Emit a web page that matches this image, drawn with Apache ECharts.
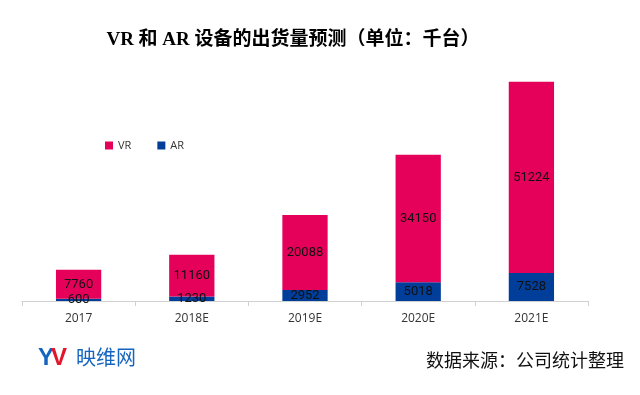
<!DOCTYPE html>
<html><head><meta charset="utf-8">
<script src="https://cdn.jsdelivr.net/npm/echarts@6/dist/echarts.min.js"></script>
<style>html,body{margin:0;padding:0;background:#fff}#c{width:640px;height:395px}</style>
</head><body><div id="c"></div>
<script>
var categories = ['2017', '2018E', '2019E', '2020E', '2021E'];
var arValues = [600, 1230, 2952, 5018, 7528];
var vrValues = [7760, 11160, 20088, 34150, 51224];
var titleText = 'VR 和 AR 设备的出货量预测（单位：千台）';
var sourceText = '数据来源：公司统计整理';

var chart = echarts.init(document.getElementById('c'));
var labelStyle = {
  show: true, position: 'inside', color: '#111',
  fontSize: 13, fontFamily: '"Liberation Sans Narrow", "Roboto", sans-serif'
};
chart.setOption({
  animation: false,
  title: {
    text: titleText, left: 288, top: 26, textAlign: 'center',
    textStyle: { fontSize: 19, fontWeight: 'bold', color: '#000',
      fontFamily: '"Liberation Serif", "Noto Sans CJK SC", serif' }
  },
  legend: {
    left: 100, top: 135, itemWidth: 8, itemHeight: 8, itemGap: 26,
    icon: 'rect',
    textStyle: { fontSize: 11, color: '#333', fontFamily: '"Open Sans", sans-serif' },
    data: ['VR', 'AR']
  },
  grid: { left: 22, right: 52, top: 77, bottom: 94 },
  xAxis: {
    type: 'category', data: categories,
    axisLine: { lineStyle: { color: '#d0d0d0', width: 1 } },
    axisTick: { show: true, length: 5, lineStyle: { color: '#d0d0d0' } },
    axisLabel: { color: '#333', fontSize: 12, margin: 12, fontFamily: '"Open Sans", sans-serif' }
  },
  yAxis: { type: 'value', min: 0, max: 60000, show: false, splitLine: { show: false } },
  series: [
    { name: 'AR', type: 'bar', stack: 's', data: arValues, barWidth: '40%',
      itemStyle: { color: '#013E99' }, label: labelStyle },
    { name: 'VR', type: 'bar', stack: 's', data: vrValues, barWidth: '40%',
      itemStyle: { color: '#E5005A' }, label: labelStyle }
  ],
  graphic: [
    { type: 'text', left: 38, top: 346, style: { text: 'Y', fill: '#1565C0', fontSize: 24, fontWeight: 'bold', fontFamily: 'Liberation Sans' } },
    { type: 'text', left: 51, top: 346, style: { text: 'V', fill: '#E3152B', fontSize: 24, fontWeight: 'bold', fontFamily: 'Liberation Sans' } },
    { type: 'text', left: 76, top: 347, style: { text: '映维网', fill: '#1565C0', fontSize: 20, fontFamily: '"Noto Sans CJK SC", sans-serif' } },
    { type: 'text', left: 426, top: 351, style: { text: sourceText, fill: '#111', fontSize: 18, fontFamily: '"Noto Sans CJK SC", sans-serif' } }
  ]
});
</script></body></html>
